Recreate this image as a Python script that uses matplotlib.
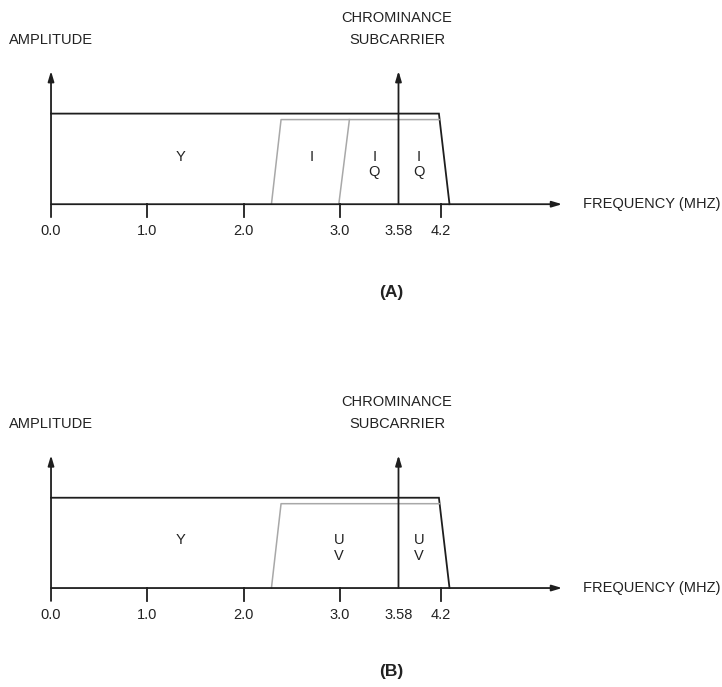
import matplotlib
matplotlib.use("Agg")
import matplotlib.pyplot as plt

plt.rcParams['font.family'] = ['Liberation Sans', 'DejaVu Sans']

# ---- data (schematic frequency axis, MHz labels) ----
tick_pos = [0.0, 1.0, 2.0, 3.0, 4.05]
tick_labels = ["0.0", "1.0", "2.0", "3.0", "4.2"]
subcarrier_pos = 3.61
subcarrier_label = "3.58"

# luminance band outline (x, amplitude)
lum_x = [0.0, 4.03, 4.14]
lum_y = [1.0, 1.0, 0.0]

# chroma band outline (gray)
chroma_x = [2.29, 2.39, 4.035]
chroma_y = [0.0, 0.934, 0.934]

# Q band edge in panel A (gray)
q_edge_x = [2.99, 3.10]
q_edge_y = [0.0, 0.934]

band_labels_A = [(1.35, ["Y"]), (2.71, ["I"]), (3.36, ["I", "Q"]), (3.82, ["I", "Q"])]
band_labels_B = [(1.35, ["Y"]), (2.995, ["U", "V"]), (3.82, ["U", "V"])]

BLACK = "#1e1e1e"
GRAY = "#a8a8a8"
TXT = "#222222"
FS = 10.5


def panel(ax, ylim, labels, show_q_edge, title, title_y, head_y, line_y):
    ax.set_xlim(-0.53, 6.971)
    ax.set_ylim(*ylim)
    ax.axis("off")
    # luminance box
    ax.plot(lum_x, lum_y, color=BLACK, lw=1.3, solid_joinstyle="miter")
    # chroma
    ax.plot(chroma_x, chroma_y, color=GRAY, lw=1.1)
    if show_q_edge:
        ax.plot(q_edge_x, q_edge_y, color=GRAY, lw=1.1)
    # axes arrows
    arrow = dict(arrowstyle="-|>,head_length=0.6,head_width=0.18", color=BLACK, lw=1.3,
                 shrinkA=0, shrinkB=0)
    ax.annotate("", xy=(5.31, 0), xytext=(0, 0), arrowprops=arrow)
    ax.annotate("", xy=(0, 1.47), xytext=(0, -0.143), arrowprops=arrow)
    ax.annotate("", xy=(subcarrier_pos, 1.47), xytext=(subcarrier_pos, 0), arrowprops=arrow)
    # ticks
    for p in tick_pos[1:]:
        ax.plot([p, p], [0, -0.143], color=BLACK, lw=1.3)
    for p, l in zip(tick_pos, tick_labels):
        ax.text(p, -0.30, l, ha="center", va="center", fontsize=FS, color=TXT)
    ax.text(subcarrier_pos, -0.30, subcarrier_label, ha="center", va="center",
            fontsize=FS, color=TXT)
    # axis labels
    ax.text(5.524, 0.0, "FREQUENCY (MHZ)", ha="left", va="center", fontsize=FS, color=TXT)
    ax.text(-0.436, head_y[0], "AMPLITUDE", ha="left", va="center", fontsize=FS, color=TXT)
    ax.text(3.595, head_y[1], "CHROMINANCE", ha="center", va="center", fontsize=FS, color=TXT)
    ax.text(3.595, head_y[0], "SUBCARRIER", ha="center", va="center", fontsize=FS, color=TXT)
    # band labels
    for x, lines in labels:
        for ly, l in zip(line_y, lines):
            ax.text(x, ly, l, ha="center", va="center", fontsize=FS, color=TXT)
    ax.text(3.53, title_y, title, ha="center", va="center", fontsize=12.5,
            fontweight="bold", color=TXT)


fig = plt.figure(figsize=(7.22, 6.87), dpi=100)

axA = fig.add_axes([0, 0.5, 1, 0.5])
panel(axA, (-1.5375, 2.254), band_labels_A, True, "(A)", -0.977, (1.812, 2.052),
      (0.521, 0.355))

axB = fig.add_axes([0, 0.0, 1, 0.5])
panel(axB, (-1.096, 2.708), band_labels_B, False, "(B)", -0.927, (1.816, 2.06),
      (0.532, 0.354))

fig.savefig("out.png", dpi=100)
